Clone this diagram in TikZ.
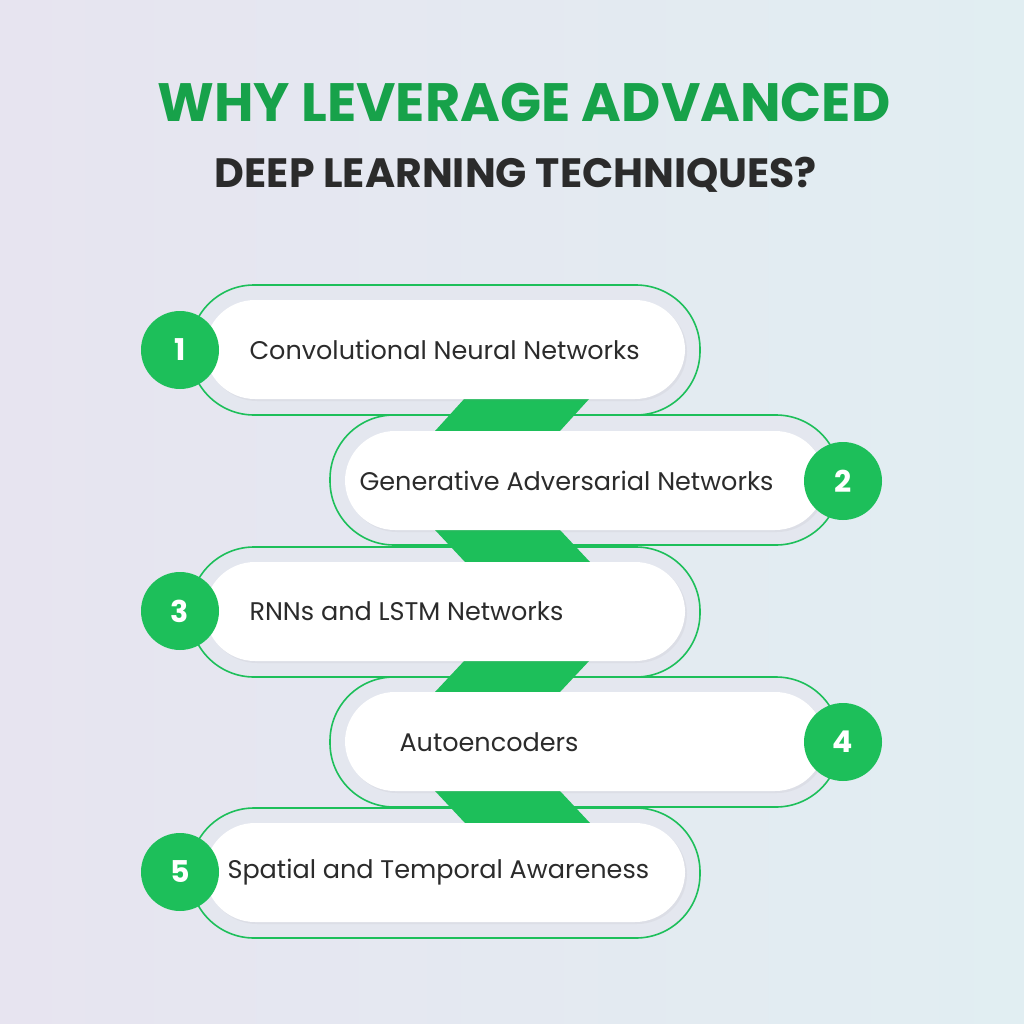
\documentclass[tikz,border=0pt]{standalone}
\usepackage{fontspec}
\setmainfont{Poppins}
\usetikzlibrary{shadows}
\definecolor{gr}{HTML}{1DBF5A}
\definecolor{tg}{HTML}{17A24A}
\definecolor{dk}{HTML}{2B2B2B}
\definecolor{bgl}{HTML}{E7E4F0}
\definecolor{bgr}{HTML}{E1EEF2}
\definecolor{cap}{HTML}{E4E7EF}
\tikzset{
 outer/.style={draw=gr,line width=1.6pt,fill=cap,rounded corners=64pt},
 inner/.style={fill=white,rounded corners=50pt,drop shadow={opacity=0.08,shadow xshift=2pt,shadow yshift=-2pt}},
 num/.style={circle,fill=gr,minimum size=78pt,inner sep=0pt,text=white,font=\bfseries\fontsize{30}{30}\selectfont},
 lbl/.style={text=dk,font=\fontsize{25.5}{25.5}\selectfont,anchor=west},
 link/.style={fill=gr},
}
\begin{document}
\begin{tikzpicture}[x=1pt,y=-1pt]
\shade[left color=bgl,right color=bgr] (0,0) rectangle (1024,1024);
\useasboundingbox (0,0) rectangle (1024,1024);
\node (t1) at (524,102) {\fontsize{54}{54}\selectfont\bfseries\color{tg}WHY LEVERAGE ADVANCED};
\node (t2) at (516,175) {\fontsize{41}{41}\selectfont\bfseries\color{dk}DEEP LEARNING TECHNIQUES?};
\foreach \i/\x/\y in {1/190/285,2/330/415,3/190/547,4/330/677,5/190/808}{
  \draw[outer] (\x,\y) rectangle ++(510,130);
}
\fill[link] (465,398) -- (590,398) -- (560,431) -- (435,431) -- cycle;
\fill[link] (435,530) -- (560,530) -- (590,562) -- (465,562) -- cycle;
\fill[link] (465,660) -- (590,660) -- (560,692) -- (435,692) -- cycle;
\fill[link] (435,791) -- (560,791) -- (590,823) -- (465,823) -- cycle;
\foreach \x/\y in {205/300,345/431,205/562,345/692,205/823}{
  \fill[inner] (\x,\y) rectangle ++(480,99);
}
\node[num] (n1) at (180,350) {1};
\node[num] (n2) at (843,481) {2};
\node[num] (n3) at (180,611) {3};
\node[num] (n4) at (843,742) {4};
\node[num] (n5) at (180,872) {5};
\node[lbl] (l1) at (246,350) {Convolutional Neural Networks};
\node[lbl] (l2) at (356,481) {Generative Adversarial Networks};
\node[lbl] (l3) at (246,611) {RNNs and LSTM Networks};
\node[lbl] (l4) at (396,742) {Autoencoders};
\node[lbl] (l5) at (224,872) {Spatial and Temporal Awareness};
\end{tikzpicture}
\end{document}
